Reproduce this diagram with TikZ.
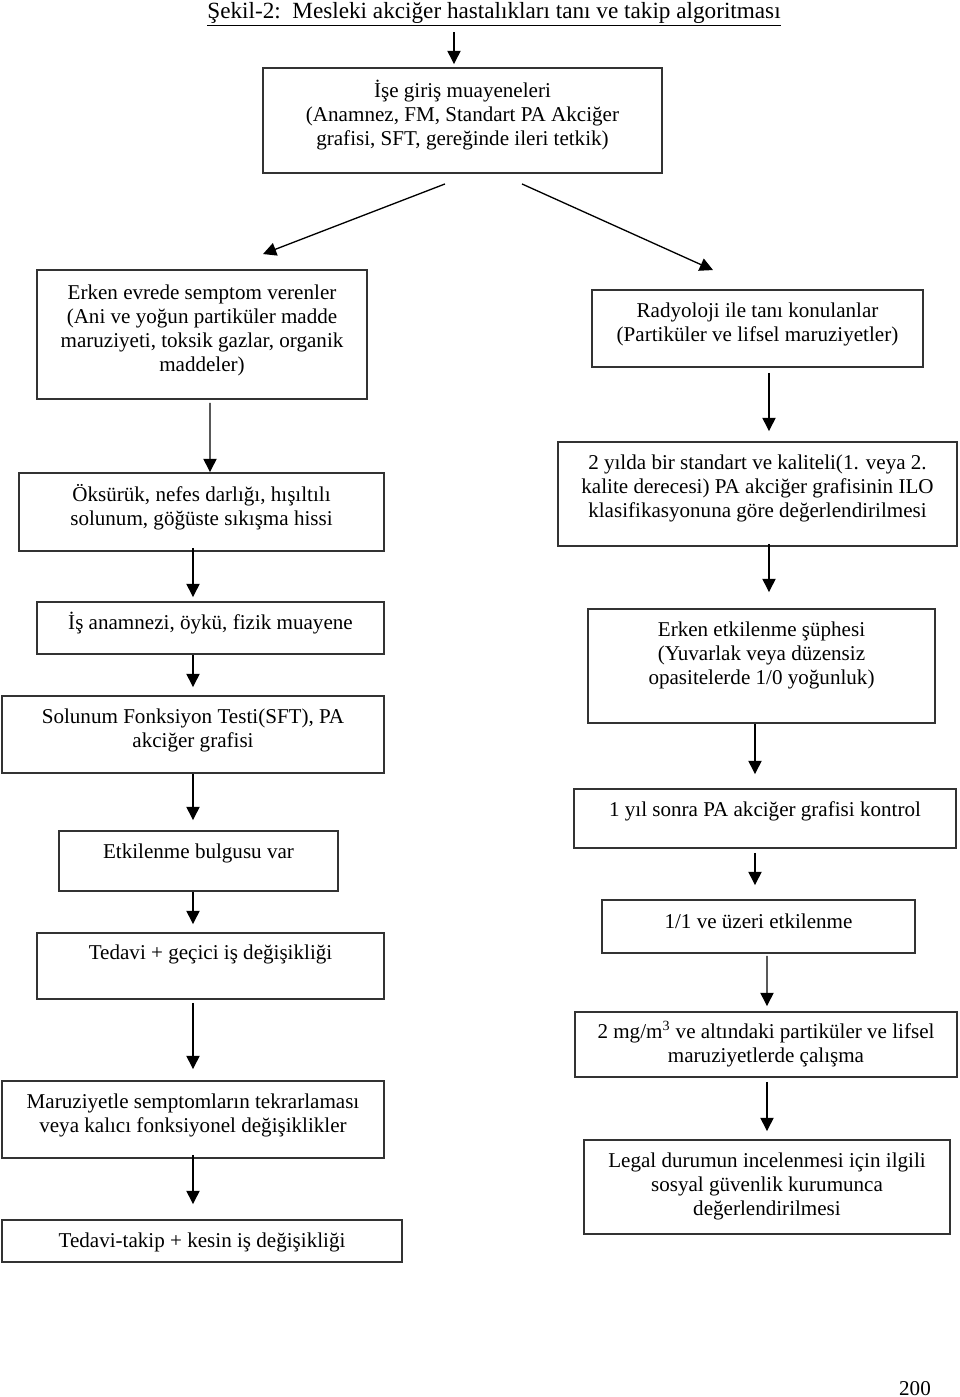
\documentclass[tikz,border=0pt]{standalone}
\usepackage{fontspec}
\setmainfont{Liberation Serif}
\usetikzlibrary{arrows.meta}

\begin{document}
\begin{tikzpicture}[x=0.02cm, y=-0.02cm,
  kutu/.style={draw=black!80, line width=1.1pt, inner sep=0pt, align=center,
    font=\fontsize{12}{13.8}\selectfont, text height=0.4cm},
  ok/.style={-{Triangle[length=7.5pt, width=7.5pt]}, line width=0.75pt}]
  \useasboundingbox (0,0) rectangle (960,1397);

  % Title
  \node[anchor=base, font=\fontsize{13.2}{15}\selectfont] (baslik) at (494,18)
    {\underline{Şekil-2:\ \ Mesleki akciğer hastalıkları tanı ve takip algoritması}};

  % Entry examination
  \node[kutu, minimum width=7.98cm, minimum height=2.10cm, text height=1.20cm, text depth=0.196cm] (giris) at (462.5,120.5)
    {İşe giriş muayeneleri\\(Anamnez, FM, Standart PA Akciğer\\grafisi, SFT, gereğinde ileri tetkik)};

  % Left branch
  \node[kutu, minimum width=6.60cm, minimum height=2.58cm, text height=1.60cm, text depth=0.104cm] (erken) at (202,334.5)
    {Erken evrede semptom verenler\\(Ani ve yoğun partiküler madde\\maruziyeti, toksik gazlar, organik\\maddeler)};
  \node[kutu, minimum width=7.30cm, minimum height=1.56cm, text height=0.80cm, text depth=0.268cm] (oksuruk) at (201.5,512)
    {Öksürük, nefes darlığı, hışıltılı\\solunum, göğüste sıkışma hissi};
  \node[kutu, minimum width=6.94cm, minimum height=1.04cm, text depth=0.36cm] (anamnez) at (210.5,628)
    {İş anamnezi, öykü, fizik muayene};
  \node[kutu, minimum width=7.64cm, minimum height=1.54cm, text height=0.80cm, text depth=0.288cm] (sft) at (193,734.5)
    {Solunum Fonksiyon Testi(SFT), PA\\akciğer grafisi};
  \node[kutu, minimum width=5.58cm, minimum height=1.20cm, text depth=0.52cm] (bulgu) at (198.5,861)
    {Etkilenme bulgusu var};
  \node[kutu, minimum width=6.94cm, minimum height=1.32cm, text depth=0.68cm] (tedavi) at (210.5,966)
    {Tedavi + geçici iş değişikliği};
  \node[kutu, minimum width=7.64cm, minimum height=1.54cm, text height=0.80cm, text depth=0.288cm] (tekrar) at (193,1119.5)
    {Maruziyetle semptomların tekrarlaması\\veya kalıcı fonksiyonel değişiklikler};
  \node[kutu, minimum width=8.00cm, minimum height=0.84cm, text depth=0.16cm] (kesin) at (202,1241)
    {Tedavi-takip + kesin iş değişikliği};

  % Right branch
  \node[kutu, minimum width=6.62cm, minimum height=1.54cm, text height=0.80cm, text depth=0.288cm] (radyo) at (757.5,328.5)
    {Radyoloji ile tanı konulanlar\\(Partiküler ve lifsel maruziyetler)};
  \node[kutu, minimum width=7.98cm, minimum height=2.08cm, text height=1.20cm, text depth=0.256cm] (ilo) at (757.5,494)
    {2 yılda bir standart ve kaliteli(1. veya 2.\\kalite derecesi) PA akciğer grafisinin ILO\\klasifikasyonuna göre değerlendirilmesi};
  \node[kutu, minimum width=6.94cm, minimum height=2.28cm, text height=1.20cm, text depth=0.456cm] (suphe) at (761.5,666)
    {Erken etkilenme şüphesi\\(Yuvarlak veya düzensiz\\opasitelerde 1/0 yoğunluk)};
  \node[kutu, minimum width=7.64cm, minimum height=1.18cm, text depth=0.50cm] (kontrol) at (765,818.5)
    {1 yıl sonra PA akciğer grafisi kontrol};
  \node[kutu, minimum width=6.26cm, minimum height=1.06cm, text depth=0.34cm] (ustu) at (758.5,926.5)
    {1/1 ve üzeri etkilenme};
  \node[kutu, minimum width=7.64cm, minimum height=1.30cm, text height=0.90cm, text depth=0.188cm] (mgm) at (766,1044.5)
    {2 mg/m\textsuperscript{3} ve altındaki partiküler ve lifsel\\maruziyetlerde çalışma};
  \node[kutu, minimum width=7.32cm, minimum height=1.88cm, text height=1.30cm, text depth=0.156cm] (legal) at (767,1187)
    {Legal durumun incelenmesi için ilgili\\sosyal güvenlik kurumunca\\değerlendirilmesi};

  % Page number
  \node[anchor=base, font=\fontsize{12}{13.8}\selectfont] (sayfa) at (915,1395) {200};

  % Arrows
  \draw[ok] ([shift={(-40,14)}]baslik.base) -- ([shift={(-8.5,-3)}]giris.north);
  \draw[ok] ([shift={(-17.5,10)}]giris.south) -- ([shift={(61,-15)}]erken.north);
  \draw[ok] ([shift={(59.5,10)}]giris.south) -- ([shift={(-44.5,-19)}]radyo.north);
  \draw[ok] ([shift={(8,3)}]erken.south) -- ([shift={(8.5,0)}]oksuruk.north);
  \draw[ok] ([shift={(-8.5,-4)}]oksuruk.south) -- ([shift={(-17.5,-4)}]anamnez.north);
  \draw[ok] ([shift={(-17.5,0)}]anamnez.south) -- ([shift={(0,-8)}]sft.north);
  \draw[ok] (sft.south) -- ([shift={(-5.5,-10)}]bulgu.north);
  \draw[ok] ([shift={(-5.5,0)}]bulgu.south) -- ([shift={(-17.5,-8)}]tedavi.north);
  \draw[ok] ([shift={(-17.5,3)}]tedavi.south) -- ([shift={(0,-11)}]tekrar.north);
  \draw[ok] ([shift={(0,-4)}]tekrar.south) -- ([shift={(-9,-15)}]kesin.north);
  \draw[ok] ([shift={(11.5,5)}]radyo.south) -- ([shift={(11.5,-10)}]ilo.north);
  \draw[ok] ([shift={(11.5,-3)}]ilo.south) -- ([shift={(7.5,-16)}]suphe.north);
  \draw[ok] ([shift={(-6.5,0)}]suphe.south) -- ([shift={(-10,-14)}]kontrol.north);
  \draw[ok] ([shift={(-10,4)}]kontrol.south) -- ([shift={(-3.5,-14)}]ustu.north);
  \draw[ok] ([shift={(8.5,2)}]ustu.south) -- ([shift={(1,-5)}]mgm.north);
  \draw[ok] ([shift={(1,4)}]mgm.south) -- ([shift={(0,-8)}]legal.north);
\end{tikzpicture}
\end{document}
